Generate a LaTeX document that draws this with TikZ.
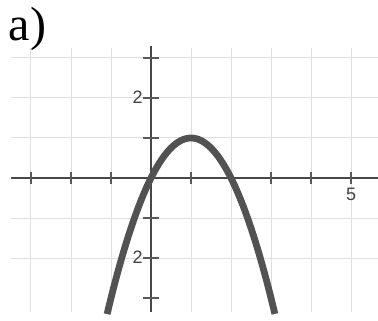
\documentclass[tikz,border=0pt]{standalone}
\usepackage{fontspec}
\setmainfont{Liberation Serif}
\newfontfamily\ticksfont{Liberation Sans}
\begin{document}
\begin{tikzpicture}[x=20pt,y=20pt,
  gridline/.style={draw=black!13,line width=0.5pt},
  axisline/.style={draw=black!72,line width=1.3pt},
  tickmark/.style={draw=black!65,line width=0.6pt},
  curveline/.style={draw=black!68,line width=3.4pt},
  ticklabel/.style={font=\ticksfont\fontsize{9}{9}\selectfont,text=black!75,inner sep=0pt}]
\useasboundingbox (-3.775,-3.55) rectangle (5.675,4.45);
% grid
\foreach \gx in {-3,-2,-1,1,2,3,4,5}
  \draw[gridline] (\gx,-3.35) -- (\gx,3.25);
\foreach \gy in {-2,-1,1,2,3}
  \draw[gridline] (-3.5,\gy) -- (5.675,\gy);
% axes
\draw[axisline] (-3.5,0) -- (5.675,0);
\draw[axisline] (0,-3.35) -- (0,3.3);
% ticks
\foreach \tx in {-3,-2,-1,1,2,3,4,5}
  \draw[tickmark] (\tx,-0.15) -- (\tx,0.15);
\foreach \ty in {-3,-2,-1,1,2,3}
  \draw[tickmark] (-0.2,\ty) -- (0.2,\ty);
% labels
\node[ticklabel,anchor=east] (ytwo) at (-0.2,2.02) {2};
\node[ticklabel,anchor=east] (ymtwo) at (-0.2,-1.98) {2};
\node[ticklabel,anchor=north] (xfive) at (5,-0.25) {5};
\node[font=\fontsize{24}{24}\selectfont,inner sep=0pt,anchor=north west] (title) at (-3.56,4.27) {a)};
% parabola
\draw[curveline,domain=-1.098:3.098,samples=80] plot (\x,{2*\x-\x*\x});
\end{tikzpicture}
\end{document}
